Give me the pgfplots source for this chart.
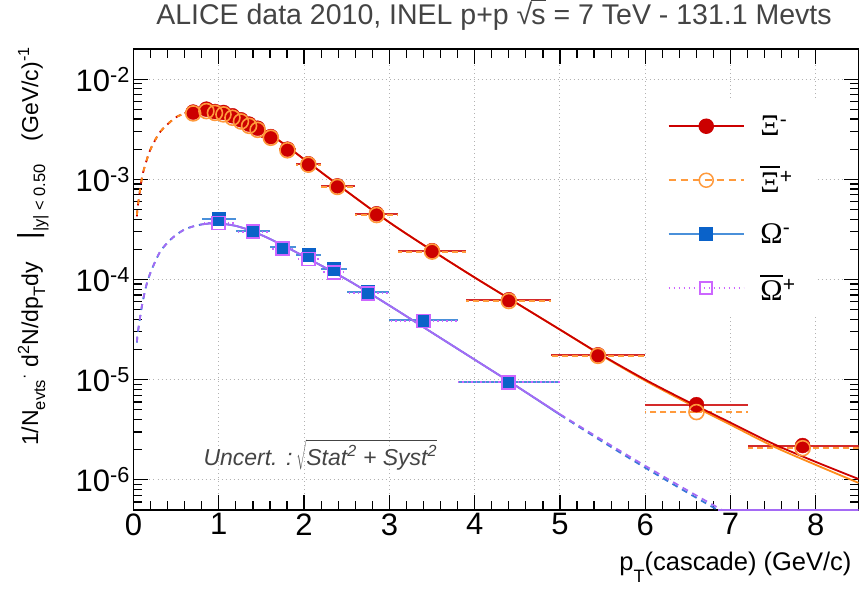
\documentclass[border=0pt]{standalone}
\usepackage{fontspec}
\setmainfont{Liberation Sans}
\newfontfamily\grk{Liberation Serif}
\usepackage{pgfplots}
\usepackage{pgfplotstable}
\pgfplotsset{compat=1.18}
\definecolor{xired}{HTML}{CC0000}
\definecolor{xiredbar}{HTML}{D42A2A}
\definecolor{xiorange}{HTML}{FF8C1A}
\definecolor{xiorangem}{HTML}{FF9A3C}
\definecolor{omblue}{HTML}{0A62C9}
\definecolor{ombluebar}{HTML}{4A90DA}
\definecolor{ombluefit}{HTML}{3A78D8}
\definecolor{omviolet}{HTML}{CC66FF}
\definecolor{omvioletfit}{HTML}{A56AF5}
\definecolor{titlegray}{HTML}{444444}
\newcommand\ovl[3]{\leavevmode\vbox{\hrule height #1\kern #2\hbox{#3}}}
\newcommand\rsubY[1]{\raisebox{-7bp}{\fontsize{16.5bp}{16.5bp}\selectfont #1}}

% Xi- data: x y (bin half widths)
\pgfplotstableread{
x y xp xm
0.70 4.69e-3 0.10 0.10
0.855 5.02e-3 0.045 0.055
0.955 4.75e-3 0.045 0.055
1.055 4.65e-3 0.045 0.055
1.16 4.31e-3 0.04 0.06
1.26 3.93e-3 0.04 0.06
1.355 3.56e-3 0.045 0.055
1.455 3.24e-3 0.045 0.055
1.61 2.67e-3 0.09 0.11
1.805 2.00e-3 0.095 0.105
2.05 1.43e-3 0.15 0.15
2.39 8.60e-4 0.21 0.19
2.85 4.53e-4 0.25 0.25
3.50 1.94e-4 0.40 0.40
4.40 6.28e-5 0.50 0.50
5.445 1.77e-5 0.555 0.545
6.60 5.63e-6 0.60 0.60
7.845 2.20e-6 0.655 0.645
}\xim
\pgfplotstableread{
x y xp xm
0.70 4.55e-3 0.10 0.10
0.855 4.80e-3 0.045 0.055
0.955 4.60e-3 0.045 0.055
1.055 4.45e-3 0.045 0.055
1.16 4.12e-3 0.04 0.06
1.26 3.78e-3 0.04 0.06
1.355 3.42e-3 0.045 0.055
1.455 3.12e-3 0.045 0.055
1.61 2.60e-3 0.09 0.11
1.805 1.95e-3 0.095 0.105
2.05 1.40e-3 0.15 0.15
2.39 8.40e-4 0.21 0.19
2.85 4.40e-4 0.25 0.25
3.50 1.90e-4 0.40 0.40
4.40 6.10e-5 0.50 0.50
5.445 1.73e-5 0.555 0.545
6.60 4.75e-6 0.60 0.60
7.845 2.07e-6 0.655 0.645
}\xip
\pgfplotstableread{
x y xp xm
1.00 4.01e-4 0.20 0.20
1.40 3.06e-4 0.20 0.20
1.75 2.10e-4 0.15 0.15
2.05 1.77e-4 0.15 0.15
2.35 1.27e-4 0.15 0.15
2.75 7.48e-5 0.25 0.25
3.40 3.90e-5 0.40 0.40
4.40 9.53e-6 0.60 0.60
}\omm
\pgfplotstableread{
x y xp xm
1.00 3.66e-4 0.20 0.20
1.40 3.00e-4 0.20 0.20
1.75 2.03e-4 0.15 0.15
2.05 1.60e-4 0.15 0.15
2.35 1.18e-4 0.15 0.15
2.75 7.30e-5 0.25 0.25
3.40 3.85e-5 0.40 0.40
4.40 9.40e-6 0.60 0.60
}\omp
% fit curves
\pgfplotstableread{
x y
0.04 4.27e-4
0.05 5.37e-4
0.10 1.047e-3
0.15 1.51e-3
0.20 2.00e-3
0.30 2.88e-3
0.40 3.55e-3
0.50 4.17e-3
0.60 4.57e-3
0.70 4.84e-3
0.80 4.95e-3
0.90 4.95e-3
1.00 4.84e-3
1.20 4.37e-3
1.40 3.63e-3
1.60 2.82e-3
1.80 2.14e-3
2.00 1.585e-3
2.50 7.59e-4
3.00 3.72e-4
3.50 1.95e-4
4.00 1.047e-4
4.50 5.75e-5
5.00 3.16e-5
5.50 1.74e-5
6.00 1.00e-5
6.50 6.03e-6
7.00 3.72e-6
7.50 2.29e-6
8.00 1.51e-6
8.50 1.02e-6
}\xifitm
\pgfplotstableread{
x y
0.04 4.27e-4
0.05 5.37e-4
0.10 1.047e-3
0.15 1.51e-3
0.20 2.00e-3
0.30 2.88e-3
0.40 3.55e-3
0.50 4.17e-3
0.60 4.57e-3
0.70 4.84e-3
0.80 4.95e-3
0.90 4.95e-3
1.00 4.84e-3
1.20 4.37e-3
1.40 3.63e-3
1.60 2.82e-3
1.80 2.14e-3
2.00 1.585e-3
2.50 7.59e-4
3.00 3.72e-4
3.50 1.95e-4
4.00 1.047e-4
4.50 5.75e-5
5.00 3.16e-5
5.50 1.72e-5
6.00 9.77e-6
6.50 5.82e-6
7.00 3.55e-6
7.50 2.16e-6
8.00 1.41e-6
8.50 9.33e-7
}\xifitp
\pgfplotstableread{
x y
0.04 2.34e-5
0.05 2.92e-5
0.10 5.50e-5
0.15 8.71e-5
0.20 1.175e-4
0.30 1.82e-4
0.40 2.34e-4
0.50 2.79e-4
0.60 3.16e-4
0.70 3.39e-4
0.80 3.55e-4
0.90 3.63e-4
1.00 3.63e-4
1.20 3.43e-4
1.40 3.02e-4
1.60 2.54e-4
1.80 2.09e-4
2.00 1.70e-4
2.50 1.00e-4
3.00 5.50e-5
3.50 2.95e-5
4.00 1.585e-5
4.50 8.51e-6
5.00 4.47e-6
5.50 2.40e-6
6.00 1.32e-6
6.50 7.41e-7
6.85 5.0e-7
}\omfitm
\pgfplotstableread{
x y
0.04 2.34e-5
0.05 2.92e-5
0.10 5.50e-5
0.15 8.71e-5
0.20 1.175e-4
0.30 1.82e-4
0.40 2.34e-4
0.50 2.79e-4
0.60 3.16e-4
0.70 3.39e-4
0.80 3.55e-4
0.90 3.63e-4
1.00 3.63e-4
1.20 3.43e-4
1.40 3.02e-4
1.60 2.54e-4
1.80 2.09e-4
2.00 1.70e-4
2.50 1.00e-4
3.00 5.50e-5
3.50 2.95e-5
4.00 1.585e-5
4.50 8.51e-6
5.00 4.52e-6
5.50 2.48e-6
6.00 1.38e-6
6.50 7.80e-7
6.90 5.0e-7
}\omfitp
\pgfplotstableread{
x y
6.85 5.0e-7
8.50 5.0e-7
}\omtail

\begin{document}
\begin{tikzpicture}
\begin{axis}[name=ax, scale only axis, width=725bp, height=461bp,
 xmin=0, xmax=8.5, ymode=log, ymin=5e-7, ymax=2e-2,
 xtick={0,1,2,3,4,5,6,7,8}, xticklabels={0,1,2,3,4,5,6,7,8},
 minor x tick num=4,
 ytick={1e-6,1e-5,1e-4,1e-3,1e-2},
 yticklabels={10\textsuperscript{-6},10\textsuperscript{-5},10\textsuperscript{-4},10\textsuperscript{-3},10\textsuperscript{-2}},
 minor ytick={6e-7,7e-7,8e-7,9e-7,2e-6,3e-6,4e-6,5e-6,6e-6,7e-6,8e-6,9e-6,2e-5,3e-5,4e-5,5e-5,6e-5,7e-5,8e-5,9e-5,2e-4,3e-4,4e-4,5e-4,6e-4,7e-4,8e-4,9e-4,2e-3,3e-3,4e-3,5e-3,6e-3,7e-3,8e-3,9e-3},
 tick align=inside, major tick length=15bp, minor tick length=9bp,
 tick style={black, line width=1.2bp},
 axis line style={line width=1.5bp},
 xmajorgrids, ymajorgrids,
 grid style={gray!60, line width=1bp, dash pattern=on 1bp off 3bp},
 tick label style={font=\fontsize{31bp}{36bp}\selectfont},
 title={ALICE data 2010, INEL p+p √\kern-1bp\ovl{1.3bp}{7.5bp}{s} = 7 TeV - 131.1 Mevts},
 title style={at={(axis description cs:0.4972,1.041)}, anchor=base, font=\fontsize{28.5bp}{32bp}\selectfont, text=titlegray},
 xlabel={p\raisebox{-12.5bp}{\fontsize{18bp}{18bp}\selectfont T}(cascade) (GeV/c)},
 xlabel style={at={(axis description cs:0.9952,-0.1302)}, anchor=base east, font=\fontsize{25.5bp}{30bp}\selectfont},
 ylabel={1/N\rsubY{evts}\textsuperscript{·} d\textsuperscript{2}N/dp\rsubY{T}dy\quad{\fontsize{29bp}{29bp}\selectfont |}\rsubY{|y| < 0.50}\quad(GeV/c)\textsuperscript{-1}},
 ylabel style={at={(axis description cs:-0.1317,0.5715)}, anchor=base, font=\fontsize{23bp}{27bp}\selectfont},
 legend style={at={(0.708,0.8915)}, anchor=north west, draw=none, fill=white,
   inner xsep=21bp, inner ysep=0bp, font=\fontsize{30bp}{34bp}\selectfont,
   nodes={inner sep=0bp, minimum height=54bp},
   /tikz/every odd column/.append style={column sep=16bp}},
 legend cell align=left,
 legend image code/.code={\draw[mark repeat=2,mark phase=2,#1] plot coordinates {(0bp,0bp) (37.5bp,0bp) (75bp,0bp)};},
]
% data points
\addplot[forget plot, only marks, mark=*, mark size=7.5bp, mark options={fill=xired, draw=xired},
  error bars/.cd, x dir=both, x explicit, error mark=none,
  error bar style={xiredbar, line width=2bp}]
  table[x=x, y=y, x error plus=xp, x error minus=xm]{\xim};
\addplot[forget plot, only marks, mark=o, mark size=7.5bp, mark options={draw=xiorangem, line width=1.6bp},
  error bars/.cd, x dir=both, x explicit, error mark=none,
  error bar style={xiorangem, line width=2bp, dash pattern=on 6bp off 4bp}]
  table[x=x, y=y, x error plus=xp, x error minus=xm]{\xip};
\addplot[forget plot, only marks, mark=square*, mark size=6.5bp, mark options={fill=omblue, draw=omblue},
  error bars/.cd, x dir=both, x explicit, error mark=none,
  error bar style={ombluebar, line width=2bp}]
  table[x=x, y=y, x error plus=xp, x error minus=xm]{\omm};
\addplot[forget plot, only marks, mark=square, mark size=6.5bp, mark options={draw=omviolet, line width=1.6bp},
  error bars/.cd, x dir=both, x explicit, error mark=none,
  error bar style={omviolet, line width=2bp, dash pattern=on 1.5bp off 3bp}]
  table[x=x, y=y, x error plus=xp, x error minus=xm]{\omp};
% fits
\addplot[forget plot, no marks, smooth, xired, line width=1.8bp, dash pattern=on 6bp off 5bp, restrict x to domain=0:0.6] table[x=x,y=y]{\xifitm};
\addplot[forget plot, no marks, smooth, xiorange, line width=1.8bp, dash pattern=on 4.5bp off 6.5bp, dash phase=-1.5bp, restrict x to domain=0:0.6] table[x=x,y=y]{\xifitp};
\addplot[forget plot, no marks, smooth, xiorange, line width=1.8bp, restrict x to domain=0.6:8.5] table[x=x,y=y]{\xifitp};
\addplot[forget plot, no marks, smooth, xired, line width=1.8bp, restrict x to domain=0.6:8.5] table[x=x,y=y]{\xifitm};
\addplot[forget plot, no marks, smooth, ombluefit, line width=1.8bp, dash pattern=on 6bp off 5bp, restrict x to domain=0:0.8] table[x=x,y=y]{\omfitm};
\addplot[forget plot, no marks, smooth, omvioletfit, line width=1.8bp, dash pattern=on 5bp off 6bp, dash phase=-1bp, restrict x to domain=0:0.8] table[x=x,y=y]{\omfitp};
\addplot[forget plot, no marks, smooth, ombluefit, line width=1.8bp, restrict x to domain=0.8:5] table[x=x,y=y]{\omfitm};
\addplot[forget plot, no marks, smooth, omvioletfit, line width=1.8bp, restrict x to domain=0.8:5] table[x=x,y=y]{\omfitp};
\addplot[forget plot, no marks, smooth, ombluefit, line width=1.8bp, dash pattern=on 6bp off 5bp, restrict x to domain=5:7] table[x=x,y=y]{\omfitm};
\addplot[forget plot, no marks, smooth, omvioletfit, line width=1.8bp, dash pattern=on 6bp off 5bp, restrict x to domain=5:7] table[x=x,y=y]{\omfitp};
\addplot[forget plot, no marks, omvioletfit, line width=2bp] table[x=x,y=y]{\omtail};
% legend
\addlegendimage{xired, line width=1.5bp, mark=*, mark size=7bp, mark options={solid, fill=xired, draw=xired}}
\addlegendentry{{\grk Ξ}\textsuperscript{-}}
\addlegendimage{xiorangem, line width=1.5bp, dash pattern=on 7bp off 5bp, mark=o, mark size=7bp, mark options={solid, line width=1.5bp}}
\addlegendentry{\ovl{2bp}{5bp}{\grk Ξ}\textsuperscript{+}}
\addlegendimage{ombluebar, line width=1.5bp, mark=square*, mark size=6bp, mark options={solid, fill=omblue, draw=omblue}}
\addlegendentry{{\grk Ω}\textsuperscript{-}}
\addlegendimage{omviolet, line width=1.5bp, dash pattern=on 1.5bp off 3.5bp, mark=square, mark size=6bp, mark options={solid, line width=1.5bp}}
\addlegendentry{\ovl{2bp}{4bp}{\grk Ω}\textsuperscript{+}}
\node[anchor=base west, font=\fontsize{23bp}{27bp}\selectfont, text=titlegray] at (axis description cs:0.0917,0.0976) {\itshape Uncert. :\,$\sqrt{\rule{0pt}{24bp}\mbox{\itshape Stat\textsuperscript{2} + Syst\textsuperscript{2}}}$};
\end{axis}
\pgfresetboundingbox
\path[use as bounding box] ([xshift=-133.5bp,yshift=-78bp]ax.south west) rectangle ([xshift=0.5bp,yshift=49bp]ax.north east);
\end{tikzpicture}
\end{document}
